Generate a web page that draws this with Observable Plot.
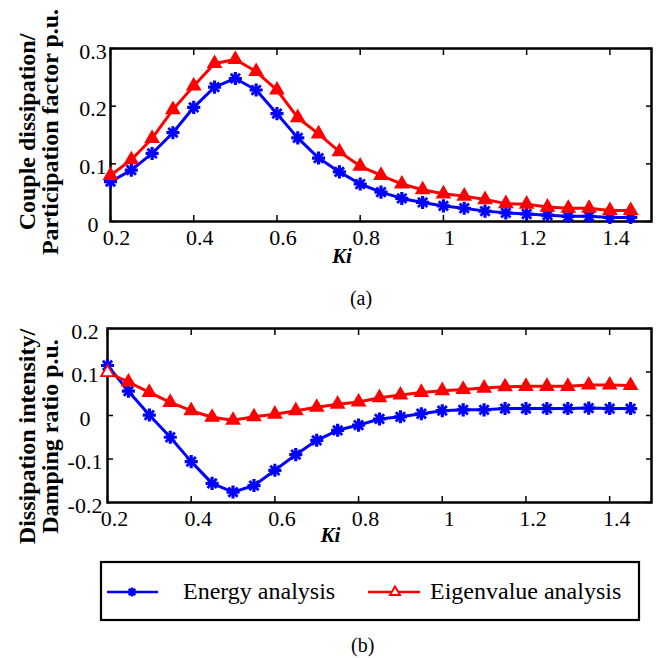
<!DOCTYPE html>
<html>
<head>
<meta charset="utf-8">
<script src="https://cdn.jsdelivr.net/npm/d3@7"></script>
<script src="https://cdn.jsdelivr.net/npm/@observablehq/plot@0.6"></script>
<style>
  body { margin: 0; background: #fff; }
  #root { position: relative; width: 660px; height: 658px; font-family: "Liberation Serif", "Times New Roman", serif; background: #fff; overflow: hidden; }
  .abs { position: absolute; }
  #root svg text { font-family: "Liberation Serif", "Times New Roman", serif; }
</style>
</head>
<body>
<div id="root"></div>
<script>
// ---- data ----
const ki = [0.2, 0.25, 0.3, 0.35, 0.4, 0.45, 0.5, 0.55, 0.6, 0.65, 0.7, 0.75, 0.8,
            0.85, 0.9, 0.95, 1.0, 1.05, 1.1, 1.15, 1.2, 1.25, 1.3, 1.35, 1.4, 1.45];
// (a) couple dissipation (energy analysis) and participation factor (eigenvalue analysis)
const coupleDissipation = [0.069, 0.089, 0.118, 0.154, 0.198, 0.233, 0.248, 0.228, 0.187, 0.145, 0.110, 0.086, 0.065,
                           0.051, 0.040, 0.033, 0.027, 0.023, 0.018, 0.015, 0.013, 0.011, 0.009, 0.009, 0.007, 0.007];
const participationFactor = [0.080, 0.107, 0.144, 0.194, 0.235, 0.274, 0.281, 0.260, 0.228, 0.180, 0.152, 0.121, 0.096,
                             0.080, 0.065, 0.055, 0.048, 0.044, 0.038, 0.031, 0.030, 0.025, 0.023, 0.023, 0.019, 0.019];
// (b) dissipation intensity (energy analysis) and damping ratio (eigenvalue analysis)
const dissipationIntensity = [0.115, 0.056, 0.001, -0.050, -0.106, -0.156, -0.176, -0.161, -0.126, -0.090, -0.057, -0.034, -0.022,
                              -0.008, -0.003, 0.004, 0.011, 0.013, 0.013, 0.016, 0.016, 0.016, 0.016, 0.017, 0.016, 0.016];
const dampingRatio = [0.099, 0.077, 0.053, 0.030, 0.011, -0.004, -0.011, -0.003, 0.003, 0.011, 0.019, 0.026, 0.031,
                      0.041, 0.047, 0.053, 0.057, 0.060, 0.063, 0.066, 0.067, 0.067, 0.067, 0.070, 0.070, 0.069];

const xTicks = [0.2, 0.4, 0.6, 0.8, 1, 1.2, 1.4];
const yTicksA = [0, 0.1, 0.2, 0.3];
const yTicksB = [-0.2, -0.1, 0, 0.1, 0.2];
const seriesNames = ["Energy analysis", "Eigenvalue analysis"];
const yTitleA = "Couple dissipation/\nParticipation factor p.u.";
const yTitleB = "Dissipation intensity/\nDamping ratio p.u.";
const xTitle = "Ki";
const panelTags = ["(a)", "(b)"];

const BLUE = "#0000ff", RED = "#ff0000";
const FONT = "'Liberation Serif', 'Times New Roman', serif";
const fmt = d => String(+d.toFixed(2));

function panel({height, mt, mb, ml, mr, energy, eig, yDomain, yTicks, yPad, xDx, title, titleDx, titleDy, kiDx, kiDy, tag, tagDx, tagDy, hollowFirst}) {
  const eTable = ki.map((k, i) => ({ki: k, v: energy[i]}));
  const gTable = ki.map((k, i) => ({ki: k, v: eig[i], first: i === 0}));
  const marks = [
    Plot.frame({stroke: "black", strokeWidth: 2.5}),
    // tick labels
    Plot.axisX({anchor: "bottom", ticks: xTicks, tickSize: 0, tickPadding: 8, dx: xDx, tickFormat: fmt,
                fontSize: 22, fontFamily: FONT, label: null}),
    Plot.axisY({anchor: "left", ticks: yTicks, tickSize: 0, tickPadding: yPad, textAnchor: "middle", tickFormat: fmt,
                fontSize: 22, fontFamily: FONT, dy: 3, label: null}),
    // inward ticks on all four sides
    Plot.axisX({anchor: "bottom", ticks: xTicks, tickSize: 6, dy: -6, tickFormat: () => "", label: null, strokeWidth: 1.5}),
    Plot.axisX({anchor: "top", ticks: xTicks, tickSize: 6, dy: 6, tickFormat: () => "", label: null, strokeWidth: 1.5}),
    Plot.axisY({anchor: "left", ticks: yTicks, tickSize: 6, dx: 6, tickFormat: () => "", label: null, strokeWidth: 1.5}),
    Plot.axisY({anchor: "right", ticks: yTicks, tickSize: 6, dx: -6, tickFormat: () => "", label: null, strokeWidth: 1.5}),
    // energy analysis
    Plot.line(eTable, {x: "ki", y: "v", stroke: BLUE, strokeWidth: 3}),
    Plot.dot(eTable, {x: "ki", y: "v", symbol: "plus", r: 4.3, stroke: BLUE, strokeWidth: 3.2}),
    Plot.dot(eTable, {x: "ki", y: "v", symbol: "times", r: 4.3, stroke: BLUE, strokeWidth: 2.8}),
    // eigenvalue analysis
    Plot.line(gTable, {x: "ki", y: "v", stroke: RED, strokeWidth: 3}),
    Plot.dot(gTable, {x: "ki", y: "v", symbol: "triangle", r: 4.7, stroke: RED, strokeWidth: 1.8,
                      fill: d => (hollowFirst && d.first) ? "white" : RED}),
    // titles
    Plot.text([title], {text: d => d, frameAnchor: "left", textAnchor: "middle", lineAnchor: "middle", rotate: -90,
                        dx: titleDx, dy: titleDy, fontSize: 24, fontWeight: "bold", fontFamily: FONT, lineHeight: 0.95}),
    Plot.text([xTitle], {text: d => d, frameAnchor: "bottom", textAnchor: "middle", lineAnchor: "middle", dx: kiDx, dy: kiDy,
                         fontSize: 21, fontWeight: "bold", fontStyle: "italic", fontFamily: FONT})
  ];
  if (tag) marks.push(Plot.text([tag], {text: d => d, frameAnchor: "bottom", textAnchor: "middle", lineAnchor: "middle",
                                        dx: tagDx, dy: tagDy, fontSize: 20, fontFamily: FONT}));
  return Plot.plot({
    width: 660, height,
    marginTop: mt, marginBottom: mb, marginLeft: ml, marginRight: mr,
    x: {domain: [0.2, 1.5], label: null},
    y: {domain: yDomain, label: null},
    color: {type: "identity"},
    style: `font-family: ${FONT}; font-size: 22px; color: black; background: white; overflow: visible;`,
    marks
  });
}

const root = document.getElementById("root");

const a = panel({height: 310, mt: 48, mb: 89, ml: 110, mr: 9,
  energy: coupleDissipation, eig: participationFactor, yDomain: [0, 0.3], yTicks: yTicksA, yPad: 17.5, xDx: 6,
  title: yTitleA, titleDx: -71, titleDy: -3, kiDx: -39, kiDy: 35,
  tag: panelTags[0], tagDx: -20, tagDy: 77.5, hollowFirst: false});
a.classList.add("abs"); a.style.left = "0px"; a.style.top = "0px";
root.appendChild(a);

const b = panel({height: 240, mt: 18, mb: 48, ml: 107, mr: 9,
  energy: dissipationIntensity, eig: dampingRatio, yDomain: [-0.2, 0.2], yTicks: yTicksB, yPad: 22.5, xDx: 7,
  title: yTitleB, titleDx: -68, titleDy: 21, kiDx: -49, kiDy: 33,
  tag: null, hollowFirst: true});
b.classList.add("abs"); b.style.left = "0px"; b.style.top = "310px";
root.appendChild(b);

// legend
const legend = document.createElementNS("http://www.w3.org/2000/svg", "svg");
legend.setAttribute("width", 542); legend.setAttribute("height", 62);
legend.setAttribute("class", "abs");
legend.style.left = "99px"; legend.style.top = "560px";
legend.innerHTML = `
  <rect x="2" y="2" width="538" height="58" fill="white" stroke="black" stroke-width="2.2"/>
  <line x1="8" x2="59" y1="32" y2="32" stroke="${BLUE}" stroke-width="2.5"/>
  <path d="M33,27.5V36.5M28.5,32H37.5M29.8,28.8L36.2,35.2M29.8,35.2L36.2,28.8" stroke="${BLUE}" stroke-width="2.5"/>
  <text x="84" y="39" font-size="24">${seriesNames[0]}</text>
  <line x1="269" x2="321" y1="32" y2="32" stroke="${RED}" stroke-width="2.5"/>
  <path d="M296,26.5L301,35L291,35Z" fill="white" stroke="${RED}" stroke-width="2"/>
  <text x="331" y="39" font-size="24">${seriesNames[1]}</text>`;
root.appendChild(legend);

const tagB = document.createElement("div");
tagB.className = "abs";
tagB.textContent = panelTags[1];
tagB.style.cssText = "position:absolute;left:351px;top:633px;font-size:20px;line-height:24px;font-family:'Liberation Serif','Times New Roman',serif;";
root.appendChild(tagB);
</script>
</body>
</html>
